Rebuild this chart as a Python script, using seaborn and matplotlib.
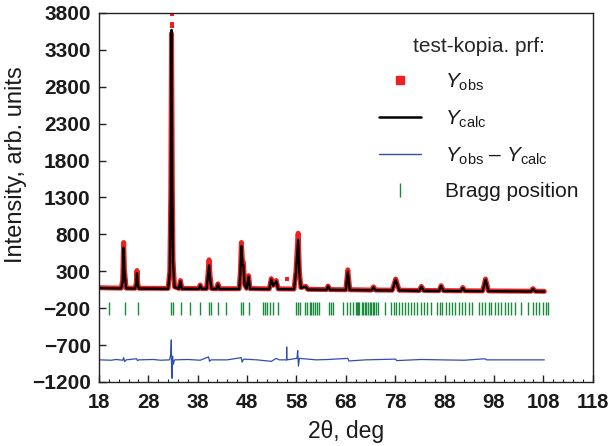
import matplotlib
matplotlib.use("Agg")
import matplotlib.pyplot as plt
from matplotlib.lines import Line2D
from matplotlib.ticker import MultipleLocator, FixedLocator
import seaborn as sns
import pandas as pd

# ---------------- data ----------------
two_theta = [18.0, 20.0, 22.5, 22.8, 23.0, 23.15, 23.5, 25.3, 25.55, 25.7, 25.85, 26.1,
             32.0, 32.35, 32.55, 32.7, 32.85, 33.0, 33.3, 34.2, 34.5, 34.8,
             38.2, 38.5, 38.8, 39.8, 40.05, 40.3, 40.5, 40.8, 41.8, 42.1, 42.4,
             46.4, 46.65, 46.85, 47.05, 47.25, 47.5, 47.9, 48.3, 48.6,
             52.5, 52.9, 53.3, 53.9, 54.3, 57.5, 57.9, 58.35, 58.6, 58.9, 59.9, 60.3,
             64.1, 64.4, 64.8, 68.0, 68.4, 68.8, 73.2, 73.6, 74.0, 77.4, 78.1, 78.8,
             82.9, 83.3, 83.8, 86.9, 87.3, 87.8, 91.3, 91.7, 92.1, 95.7, 96.3, 96.9,
             105.5, 105.9, 106.4, 108.2]
y_obs = [78, 74, 72, 180, 690, 330, 72, 70, 140, 310, 130, 70,
         68, 300, 1400, 3520, 1500, 450, 90, 68, 175, 68,
         66, 115, 66, 66, 240, 455, 240, 66, 64, 130, 64,
         64, 300, 690, 450, 420, 120, 70, 240, 66,
         62, 200, 110, 175, 62, 60, 300, 815, 300, 80, 95, 56,
         52, 100, 52, 50, 320, 50, 46, 88, 46, 44, 195, 44,
         40, 95, 40, 38, 105, 38, 36, 80, 36, 34, 195, 34,
         30, 65, 30, 28]
y_calc = [72, 70, 68, 160, 620, 300, 68, 66, 130, 275, 120, 66,
          64, 280, 1300, 3570, 1400, 420, 85, 64, 165, 64,
          62, 110, 62, 62, 220, 380, 210, 62, 60, 125, 60,
          60, 280, 640, 400, 380, 110, 66, 225, 62,
          58, 190, 105, 165, 58, 56, 280, 725, 270, 76, 90, 52,
          48, 95, 48, 46, 295, 46, 42, 84, 42, 40, 185, 40,
          36, 90, 36, 34, 100, 34, 32, 75, 32, 30, 185, 30,
          26, 60, 26, 24]

# isolated observed points (steep flanks / top of the main peak, outlier at 56 deg)
obs_extra_x = [32.60, 32.62, 32.64, 32.66, 32.68, 32.70, 32.70, 32.72, 32.74, 32.76,
               32.78, 32.80, 32.82, 56.0]
obs_extra_y = [1700, 2300, 2800, 3200, 3450, 3650, 3780, 3620, 3350, 3000,
               2500, 2000, 1200, 190]

diff_x = [18.0, 20.5, 21.5, 22.8, 23.0, 23.2, 23.5, 25.6, 25.8, 26.1, 29.0, 30.5,
          32.3, 32.55, 32.65, 32.72, 32.8, 32.9, 33.05, 33.3, 36.0, 38.5,
          40.2, 40.4, 40.7, 44.0, 46.8, 47.0, 47.3, 50.0, 52.9, 53.9, 54.5,
          56.0, 56.02, 56.04, 58.1, 58.25, 58.4, 58.6, 62.0, 64.4, 68.4, 68.6,
          72.0, 78.1, 78.3, 83.3, 87.3, 92.0, 96.2, 96.5, 102.0, 108.2]
diff_y = [-900, -905, -895, -905, -870, -925, -900, -885, -910, -900, -895, -905,
          -900, -820, -630, -1130, -1150, -850, -960, -900, -895, -905,
          -860, -920, -900, -900, -870, -930, -890, -900, -920, -880, -900,
          -900, -725, -900, -880, -775, -985, -880, -900, -895, -880, -915,
          -900, -890, -910, -895, -900, -905, -885, -900, -900, -900]

bragg_pos = [20.1, 23.2, 25.9, 32.5, 32.9, 34.7, 36.5, 38.5, 40.2, 40.7, 42.1, 43.7,
             46.8, 47.2, 48.3, 51.3, 51.7, 52.0, 52.7, 53.3, 54.3, 58.0, 58.4, 58.7,
             59.7, 60.1, 60.7, 61.0, 61.4, 61.8, 62.2, 62.5, 64.5, 65.0, 65.4, 67.5,
             68.3, 68.9, 69.5, 70.0, 70.2, 70.4, 70.7, 71.2, 71.5, 71.8, 72.1, 72.5,
             72.8, 73.0, 73.5, 73.8, 74.1, 74.5, 75.9, 77.2, 77.7, 78.2, 78.7, 79.4,
             79.9, 80.5, 81.2, 81.9, 82.5, 83.2, 83.9, 84.5, 85.2, 86.5, 87.0, 87.5,
             88.2, 88.9, 89.5, 90.2, 90.9, 91.5, 92.2, 92.9, 93.5, 94.9, 95.5, 96.2,
             96.9, 97.5, 98.2, 98.9, 99.5, 100.2, 100.9, 101.5, 102.2, 103.5, 104.9,
             105.9, 106.5, 107.2, 107.9, 108.5, 108.9]

x_ticks = [18, 28, 38, 48, 58, 68, 78, 88, 98, 108, 118]
y_ticks = [-1200, -700, -200, 300, 800, 1300, 1800, 2300, 2800, 3300, 3800]

# ---------------- styling ----------------
sns.set_theme(style="ticks")
plt.rcParams["font.family"] = ["Liberation Sans", "DejaVu Sans"]
plt.rcParams["mathtext.fontset"] = "custom"
plt.rcParams["mathtext.rm"] = "Liberation Sans"
plt.rcParams["mathtext.it"] = "Liberation Sans:italic"
plt.rcParams["mathtext.bf"] = "Liberation Sans:bold"

fig = plt.figure(figsize=(6.11, 4.46), dpi=100)
ax = fig.add_axes([0.162, 0.1435, 0.808, 0.8275])

prof = pd.DataFrame({"x": two_theta, "obs": y_obs, "calc": y_calc})
extra = pd.DataFrame({"x": obs_extra_x, "y": obs_extra_y})
diff = pd.DataFrame({"x": diff_x, "y": diff_y})

red = "#ee2020"
sns.lineplot(data=prof, x="x", y="obs", ax=ax, color=red, lw=3.6, sort=False,
             estimator=None, solid_joinstyle="round")
sns.scatterplot(data=extra, x="x", y="y", ax=ax, color=red, marker="s", s=9,
                linewidth=0)
sns.lineplot(data=prof, x="x", y="calc", ax=ax, color="black", lw=1.7, sort=False,
             estimator=None)
sns.lineplot(data=diff, x="x", y="y", ax=ax, color="#2f4fb0", lw=0.9, sort=False,
             estimator=None)
ax.vlines(bragg_pos, -290, -110, color="#1a8a3c", lw=1.0)

ax.set_xlim(18, 118)
ax.set_ylim(-1200, 3800)
ax.xaxis.set_major_locator(FixedLocator(x_ticks))
ax.xaxis.set_minor_locator(MultipleLocator(2))
ax.yaxis.set_major_locator(FixedLocator(y_ticks))
ax.set_xticklabels([str(v) for v in x_ticks], fontweight="bold")
ax.set_yticklabels([str(v).replace("-", "\u2212") for v in y_ticks], fontweight="bold")
ax.tick_params(axis="both", which="major", direction="in", length=5, width=1,
               labelsize=15, color="#222222", labelcolor="#1a1a1a")
ax.tick_params(axis="x", which="major", labelsize=14.5, pad=8)
ax.tick_params(axis="y", which="major", pad=6)
ax.tick_params(axis="x", which="minor", direction="in", length=2.5, width=0.8,
               color="#222222")
for s in ax.spines.values():
    s.set_color("#222222")
    s.set_linewidth(1.0)

ax.set_xlabel("2\u03b8, deg", fontsize=16.5, color="#1a1a1a", labelpad=6)
ax.set_ylabel("Intensity, arb. units", fontsize=17, color="#1a1a1a")
ax.yaxis.set_label_coords(-0.145, 0.588)

handles = [
    Line2D([], [], ls="none", marker="s", color=red, markersize=5.5),
    Line2D([], [], color="black", lw=1.8),
    Line2D([], [], color="#2f4fb0", lw=1.0),
    Line2D([], [], ls="none", marker="|", color="#1a8a3c", markersize=10, mew=1.0),
]
labels = [r"$Y_{\rm obs}$", r"$Y_{\rm calc}$",
          r"$Y_{\rm obs}$" + " \u2013 " + r"$Y_{\rm calc}$",
          "Bragg position"]
leg = ax.legend(handles, labels, title="test-kopia. prf:", loc="upper right",
                bbox_to_anchor=(1.0, 0.975), frameon=False, fontsize=15,
                title_fontsize=15, handlelength=2.0, labelspacing=0.75,
                handletextpad=1.15, borderaxespad=0.3)
for t in leg.get_texts():
    t.set_color("#1a1a1a")

fig.savefig("out.png", dpi=100)
